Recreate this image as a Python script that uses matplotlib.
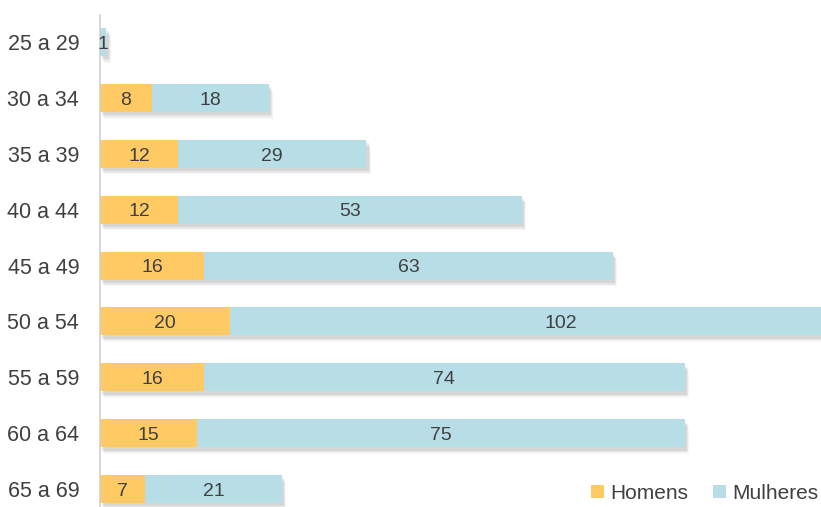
import numpy as np
import matplotlib.pyplot as plt
from matplotlib.patches import Rectangle

faixas = ['25 a 29', '30 a 34', '35 a 39', '40 a 44', '45 a 49',
          '50 a 54', '55 a 59', '60 a 64', '65 a 69']
homens = [0, 8, 12, 12, 16, 20, 16, 15, 7]
mulheres = [1, 18, 29, 53, 63, 102, 74, 75, 21]

cor_h = '#FFC964'
cor_m = '#B7DDE7'
cor_txt = '#404040'

plt.rcParams['font.family'] = ['Liberation Sans', 'DejaVu Sans']

fig = plt.figure(figsize=(8.21, 5.07), dpi=100)
ax = fig.add_axes([100/821, 0, 721/821, 1 - 15/507])

y = np.arange(len(faixas))
h = 0.5

# sombra
for i in range(len(faixas)):
    tot = homens[i] + mulheres[i]
    for k, a in enumerate([0.12, 0.09, 0.06]):
        dx = 0.35 + 0.15 * k
        dy = 0.06 + 0.03 * k
        ax.add_patch(Rectangle((dx, y[i] - h/2 + dy), tot, h,
                               color='#606060', alpha=a, lw=0, zorder=1))

ax.barh(y, homens, height=h, color=cor_h, zorder=2, label='Homens')
ax.barh(y, mulheres, left=homens, height=h, color=cor_m, zorder=2, label='Mulheres')

for i in range(len(faixas)):
    if homens[i] > 0:
        ax.text(homens[i]/2, y[i] + 0.04, str(homens[i]), ha='center', va='center',
                fontsize=14, color=cor_txt, zorder=3)
    ax.text(homens[i] + mulheres[i]/2, y[i] + 0.04, str(mulheres[i]), ha='center', va='center',
            fontsize=14, color=cor_txt, zorder=3)

ax.set_xlim(0, 111)
ax.set_ylim(8.32, -0.483)
ax.set_yticks(y)
ax.set_yticklabels(faixas, fontsize=15.5, color=cor_txt)
ax.tick_params(axis='y', length=0, pad=15)
ax.set_xticks([])
for s in ['top', 'right', 'bottom']:
    ax.spines[s].set_visible(False)
ax.spines['left'].set_color('#D0D0D0')
ax.spines['left'].set_linewidth(1.2)

leg = ax.legend(loc='lower right', bbox_to_anchor=(1.022, -0.03), ncol=2, frameon=False,
                fontsize=15, handlelength=0.6, handleheight=0.6, columnspacing=1.2,
                handletextpad=0.3)
for t in leg.get_texts():
    t.set_color(cor_txt)

fig.savefig('out.png', dpi=100)
